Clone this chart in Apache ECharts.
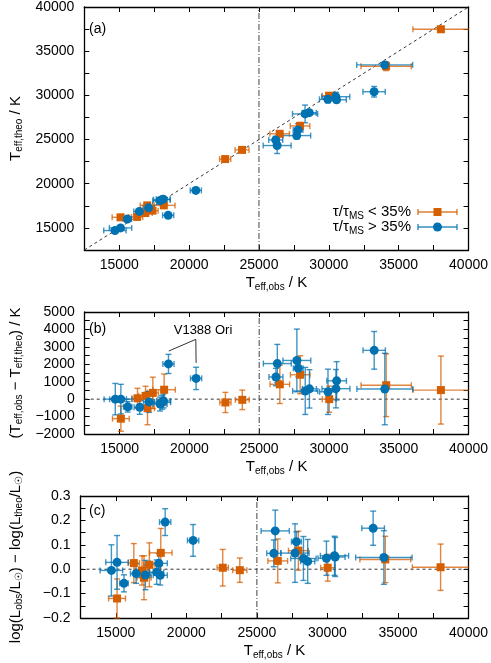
<!DOCTYPE html>
<html>
<head>
<meta charset="utf-8">
<title>Teff comparison</title>
<script src="https://cdn.jsdelivr.net/npm/echarts@6/dist/echarts.min.js"></script>
<style>
  html, body { margin: 0; padding: 0; background: #fff; }
  #chart { width: 491px; height: 663px; }
</style>
</head>
<body>
<div id="chart"></div>
<script>
// young stars, tau/tauMS < 35% (orange squares)
var youngTobs     = [15090, 16280, 16860, 17000, 17380, 18190, 22580, 23790, 26480, 27940, 30020, 34100, 38020];
var youngTobsErr  = [600, 400, 500, 500, 400, 800, 400, 500, 700, 700, 500, 1800, 2000];
var youngTtheo    = [16200, 16240, 16690, 17550, 16950, 17550, 22790, 23830, 25650, 26540, 29960, 33300, 37480];
var youngTtheoErr = [200, 200, 250, 300, 250, 300, 150, 150, 300, 400, 200, 500, 300];
var youngDT       = [-1120, 50, 190, -520, 360, 540, -190, -40, 850, 1400, 0, 800, 520];
var youngDTErr    = [720, 570, 550, 950, 900, 900, 580, 560, 1100, 1090, 750, 1800, 1950];
var youngDL       = [-0.12, 0.025, -0.005, -0.035, 0.018, 0.067, 0.006, -0.004, 0.034, 0.076, 0.006, 0.04, 0.008];
var youngDLErr    = [0.08, 0.08, 0.06, 0.09, 0.09, 0.1, 0.075, 0.05, 0.09, 0.08, 0.055, 0.095, 0.095];

// evolved stars, tau/tauMS > 35% (blue circles)
var oldTobs     = [14690, 15090, 15580, 16440, 17100, 17900, 18050, 18150, 18500, 20480, 26200, 26300, 27700, 27800, 28300, 28600, 29930, 30500, 30550, 33240, 34000];
var oldTobsErr  = [800, 800, 300, 400, 400, 500, 600, 500, 400, 400, 500, 1000, 1000, 350, 900, 500, 600, 1000, 700, 800, 2000];
var oldTtheo    = [14700, 15000, 16010, 16870, 17270, 18080, 18200, 18250, 16420, 19240, 24960, 24320, 25450, 26090, 27900, 28040, 29550, 29850, 29500, 30410, 33450];
var oldTtheoErr = [200, 250, 200, 250, 300, 250, 250, 300, 250, 300, 400, 900, 400, 700, 1000, 300, 400, 500, 300, 600, 300];
var oldDT       = [0, 0, -440, -470, -160, -280, -180, -100, 2020, 1190, 1270, 2040, 2220, 1770, 470, 590, 420, 600, 1050, 2800, 580];
var oldDTErr    = [900, 850, 300, 400, 600, 400, 400, 400, 550, 640, 500, 1100, 1800, 500, 1350, 1100, 1300, 1100, 1100, 1080, 2050];
var oldDL       = [-0.005, 0.028, -0.058, -0.018, -0.024, -0.012, 0.024, -0.025, 0.193, 0.118, 0.065, 0.157, 0.066, 0.113, 0.044, 0.032, 0.045, 0.055, 0.05, 0.168, 0.048];
var oldDLErr    = [0.105, 0.11, 0.035, 0.04, 0.06, 0.05, 0.04, 0.04, 0.055, 0.065, 0.055, 0.085, 0.12, 0.04, 0.09, 0.09, 0.07, 0.08, 0.08, 0.07, 0.11];

// annotation for V1388 Ori in panel (b)
var v1388Line = [[18520, 2760], [20460, 3430], [20480, 2080]];

var FONT = '"Liberation Sans", Arial, Helvetica, sans-serif';
var ORANGE = '#d55e00';
var BLUE = '#0072b2';

function rich(size) {
  return {
    n: { fontSize: size, fontFamily: FONT, color: '#000' },
    s: { fontSize: 10, fontFamily: FONT, color: '#000', padding: [8, 0, 0, 0] }
  };
}

function minus(s) { return s.replace('-', '\u2212'); }

function zip() {
  var cols = arguments;
  return cols[0].map(function (v, i) {
    return Array.prototype.map.call(cols, function (c) { return c[i]; });
  });
}

function errRender(params, api) {
  var x = api.value(0), y = api.value(1), ex = api.value(2), ey = api.value(3);
  var cs = params.coordSys;
  var x0 = cs.x, x1 = cs.x + cs.width, y0 = cs.y, y1 = cs.y + cs.height;
  var c = api.coord([x, y]);
  var l = api.coord([x - ex, y])[0], r = api.coord([x + ex, y])[0];
  var t = api.coord([x, y + ey])[1], b = api.coord([x, y - ey])[1];
  var style = { stroke: api.visual('color'), lineWidth: 1.4, opacity: 0.75 };
  var cap = 3;
  var kids = [];
  function seg(a1, b1, a2, b2) {
    kids.push({ type: 'line', shape: { x1: a1, y1: b1, x2: a2, y2: b2 }, style: style });
  }
  seg(Math.max(l, x0), c[1], Math.min(r, x1), c[1]);
  if (l >= x0) seg(l, c[1] - cap, l, c[1] + cap);
  if (r <= x1) seg(r, c[1] - cap, r, c[1] + cap);
  seg(c[0], Math.max(t, y0), c[0], Math.min(b, y1));
  if (t >= y0) seg(c[0] - cap, t, c[0] + cap, t);
  if (b <= y1) seg(c[0] - cap, b, c[0] + cap, b);
  return { type: 'group', children: kids };
}

var axisLine = { onZero: false, lineStyle: { color: '#000', width: 1.3 } };
var tick = { inside: true, length: 5, lineStyle: { color: '#000', width: 1 } };

function xPair(g, name) {
  var base = {
    type: 'value', gridIndex: g, min: 12500, max: 40000, interval: 2500,
    axisLine: axisLine, axisTick: tick, splitLine: { show: false }
  };
  return [
    Object.assign({}, base, {
      position: 'bottom',
      axisLabel: {
        margin: 8, fontSize: 14, color: '#000', fontFamily: FONT,
        formatter: function (v) { return (v % 5000 === 0 && v > 12500) ? String(v) : ''; }
      },
      name: name, nameLocation: 'middle', nameGap: 24,
      nameTextStyle: { fontSize: 15, fontFamily: FONT, color: '#000', rich: rich(15) }
    }),
    Object.assign({}, base, { position: 'top', axisLabel: { show: false } })
  ];
}

function yPair(g, min, max, step, fmt, name) {
  var base = {
    type: 'value', gridIndex: g, min: min, max: max, interval: step,
    axisLine: axisLine, axisTick: tick, splitLine: { show: false }
  };
  return [
    Object.assign({}, base, {
      position: 'left',
      axisLabel: { margin: 10, fontSize: 14, color: '#000', fontFamily: FONT, formatter: fmt },
      name: name, nameLocation: 'middle', nameGap: 56,
      nameTextStyle: { fontSize: 15, fontFamily: FONT, color: '#000', rich: rich(15) }
    }),
    Object.assign({}, base, { position: 'right', axisLabel: { show: false } })
  ];
}

var xName = '{n|T}{s|eff,obs}{n| / K}';

var option = {
  animation: false,
  backgroundColor: '#fff',
  grid: [
    { left: 77, top: 7, width: 393, height: 243 },
    { left: 77, top: 312, width: 393, height: 122 },
    { left: 77, top: 496, width: 393, height: 122 }
  ],
  xAxis: [].concat(xPair(0, xName), xPair(1, xName), xPair(2, xName)),
  yAxis: [].concat(
    yPair(0, 12500, 40000, 2500, function (v) {
      return (v % 5000 === 0 && v > 12500) ? String(v) : '';
    }, '{n|T}{s|eff,theo}{n| / K}'),
    yPair(1, -2000, 5000, 500, function (v) {
      return (v % 1000 === 0) ? minus(String(v)) : '';
    }, '{n|(T}{s|eff,obs}{n| \u2212 T}{s|eff,theo}{n|) / K}'),
    yPair(2, -0.2, 0.3, 0.05, function (v) {
      var k = Math.round(v * 100);
      return (k % 10 === 0) ? minus((k / 100).toFixed(1)) : '';
    }, '{n|log(L}{s|obs}{n|/L}{s|\u2609}{n|) \u2212 log(L}{s|theo}{n|/L}{s|\u2609}{n|)}')
  ),
  series: [],
  graphic: []
};

var refStyle = { color: '#333', width: 1, type: [3, 3] };
var vStyle = { color: '#444', width: 1, type: [6, 2, 1, 2] };

function refLine(xi, yi, data, style) {
  option.series.push({
    type: 'line', xAxisIndex: xi, yAxisIndex: yi, data: data, symbol: 'none',
    silent: true, lineStyle: style, z: 1, animation: false
  });
}

refLine(0, 0, [[12500, 12500], [40000, 40000]], refStyle);
refLine(0, 0, [[25000, 12500], [25000, 40000]], vStyle);
refLine(2, 2, [[12500, 0], [40000, 0]], refStyle);
refLine(2, 2, [[25000, -2000], [25000, 5000]], vStyle);
refLine(4, 4, [[12500, 0], [40000, 0]], refStyle);
refLine(4, 4, [[25000, -0.2], [25000, 0.3]], vStyle);
refLine(2, 2, v1388Line, { color: '#333', width: 1 });

function addGroup(xi, xs, xe, ys, ye, color, symbol, size) {
  option.series.push({
    type: 'custom', xAxisIndex: xi, yAxisIndex: xi, renderItem: errRender,
    data: zip(xs, ys, xe, ye), encode: { x: 0, y: 1 }, itemStyle: { color: color },
    silent: true, z: 2
  });
  option.series.push({
    type: 'scatter', xAxisIndex: xi, yAxisIndex: xi, data: zip(xs, ys),
    symbol: symbol, symbolSize: size, itemStyle: { color: color, opacity: 1 }, z: 3
  });
}

// panel (a)
addGroup(0, youngTobs, youngTobsErr, youngTtheo, youngTtheoErr, ORANGE, 'rect', 8);
addGroup(0, oldTobs, oldTobsErr, oldTtheo, oldTtheoErr, BLUE, 'circle', 9);
// panel (b)
addGroup(2, youngTobs, youngTobsErr, youngDT, youngDTErr, ORANGE, 'rect', 8);
addGroup(2, oldTobs, oldTobsErr, oldDT, oldDTErr, BLUE, 'circle', 9);
// panel (c)
addGroup(4, youngTobs, youngTobsErr, youngDL, youngDLErr, ORANGE, 'rect', 8);
addGroup(4, oldTobs, oldTobsErr, oldDL, oldDLErr, BLUE, 'circle', 9);

function label(txt, x, y, size) {
  option.graphic.push({
    type: 'text', left: x, top: y,
    style: { text: txt, fontSize: size, fontFamily: FONT, fill: '#000' }
  });
}
label('(a)', 89, 22, 14);
label('(b)', 89, 322, 14);
label('(c)', 89, 504, 14);
option.graphic.push({
  type: 'text', x: 203, y: 330,
  style: { text: 'V1388 Ori', fontSize: 13, fontFamily: FONT, fill: '#000', align: 'center', verticalAlign: 'middle' }
});

// legend
function legendRow(y, txt, color, square) {
  option.graphic.push({
    type: 'text', x: 411, y: y,
    style: { text: txt, rich: rich(15), fontSize: 15, fontFamily: FONT, fill: '#000', align: 'right', verticalAlign: 'middle' }
  });
  var s = { stroke: color, lineWidth: 1.4, opacity: 0.8 };
  option.graphic.push({ type: 'line', shape: { x1: 418, y1: y, x2: 457, y2: y }, style: s });
  option.graphic.push({ type: 'line', shape: { x1: 418, y1: y - 3, x2: 418, y2: y + 3 }, style: s });
  option.graphic.push({ type: 'line', shape: { x1: 457, y1: y - 3, x2: 457, y2: y + 3 }, style: s });
  if (square) {
    option.graphic.push({ type: 'rect', shape: { x: 433.5, y: y - 4, width: 8, height: 8 }, style: { fill: color } });
  } else {
    option.graphic.push({ type: 'circle', shape: { cx: 437.5, cy: y, r: 4.5 }, style: { fill: color } });
  }
}
legendRow(212, '{n|\u03c4/\u03c4}{s|MS}{n| < 35%}', ORANGE, true);
legendRow(227, '{n|\u03c4/\u03c4}{s|MS}{n| > 35%}', BLUE, false);

var chart = echarts.init(document.getElementById('chart'));
chart.setOption(option);
</script>
</body>
</html>
